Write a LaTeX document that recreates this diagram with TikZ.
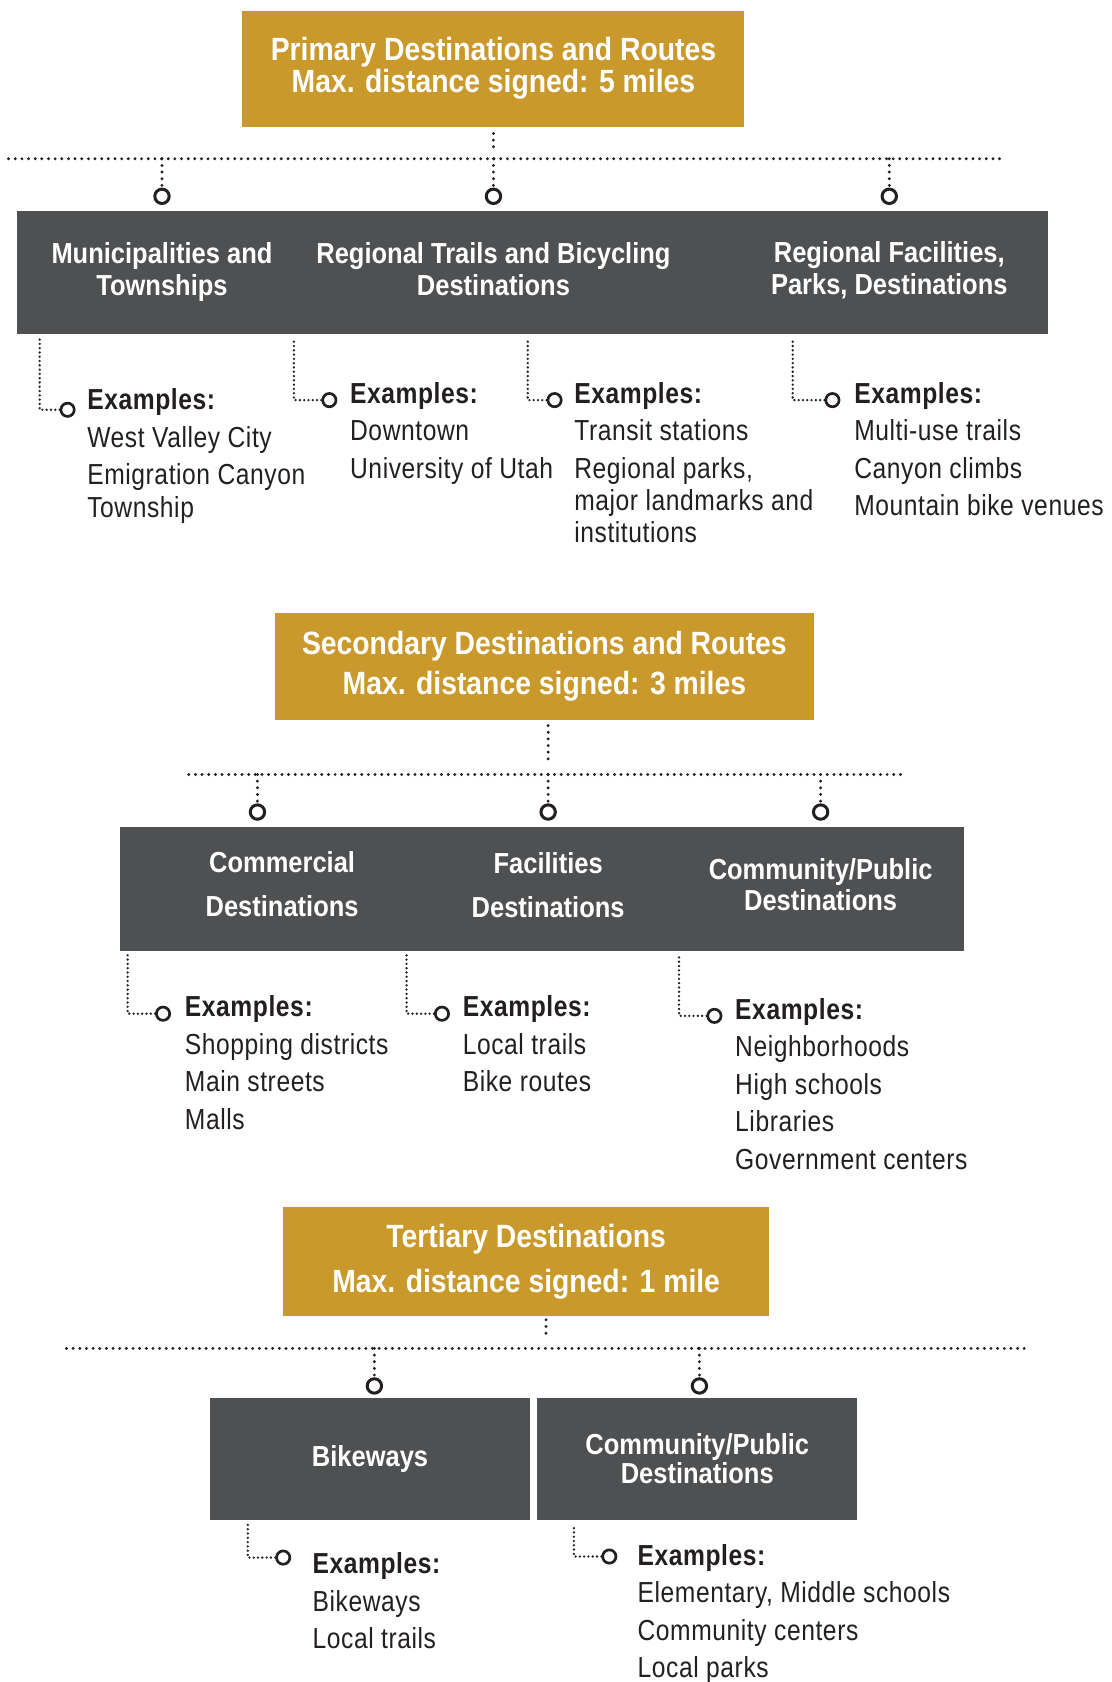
\documentclass[tikz,border=0pt]{standalone}
\usepackage{fontspec}
\setmainfont{Liberation Sans}
\newfontfamily\headfont[FakeStretch=0.88]{Liberation Sans}
\newfontfamily\bodyfont[FakeStretch=0.85,LetterSpace=2]{Liberation Sans}
\usetikzlibrary{calc}

\definecolor{gold}{HTML}{C9992B}
\definecolor{slate}{HTML}{4F5052}
\definecolor{ink}{HTML}{231F20}

\begin{document}
\begin{tikzpicture}[x=.5pt, y=-.5pt]
    \tikzstyle{goldbox} = [rectangle, fill=gold, text=white, align=center,
        inner sep=0pt, font=\headfont\bfseries\fontsize{15}{13.5}\selectfont]
    \tikzstyle{darkband} = [rectangle, fill=slate, inner sep=0pt]
    \tikzstyle{darkbox} = [rectangle, fill=slate, text=white, align=center,
        inner sep=0pt, minimum width=149pt, minimum height=57pt,
        font=\headfont\bfseries\fontsize{13.5}{13.5}\selectfont]
    \tikzstyle{headtext} = [text=white, align=center, inner sep=0pt,
        font=\headfont\bfseries\fontsize{13.5}{15}\selectfont]
    \tikzstyle{hubring} = [circle, draw=ink, line width=1.4pt, minimum size=6.7pt, inner sep=0pt]
    \tikzstyle{endring} = [circle, draw=ink, line width=1.25pt, minimum size=6.2pt, inner sep=0pt]
    \tikzstyle{examples} = [anchor=north west, align=left, text=ink, inner sep=0pt,
        font=\bodyfont\fontsize{13.5}{15}\selectfont]
    \tikzstyle{busdots} = [draw=ink, line width=1.5pt, line cap=round,
        dash pattern=on 0pt off 3.1pt]
    \tikzstyle{legdots} = [draw=ink, line width=1.2pt, line cap=round,
        dash pattern=on 0pt off 2pt]

    \useasboundingbox (0, 0) rectangle (1036, 1568);

    % Primary -------------------------------------------
    \node (gold1) at (460, 64) [goldbox, minimum width=234pt, minimum height=54pt]
        {Primary Destinations and Routes\\Max. distance signed: 5 miles};

    \coordinate (bus1w) at (8, 148);
    \coordinate (bus1e) at (938, 148);
    \draw [busdots, shorten <=3pt, shorten >=5pt] (gold1.south) -- (gold1.south |- bus1w);
    \draw [busdots] (bus1w) -- (bus1e);

    \node (h11) at (151, 183) [hubring] {};
    \node (h12) at (460, 183) [hubring] {};
    \node (h13) at (829, 183) [hubring] {};
    \draw [busdots] (h11 |- bus1w) -- (h11);
    \draw [busdots] (h12 |- bus1w) -- (h12);
    \draw [busdots] (h13 |- bus1w) -- (h13);

    \node (band1) at (496.5, 254) [darkband, minimum width=480.5pt, minimum height=57pt] {};
    \node (t11) at (151, 253.5) [headtext] {Municipalities and\\Townships};
    \node (t12) at (460, 251) [headtext] {Regional Trails and Bicycling\\Destinations};
    \node (t13) at (829, 252) [headtext] {Regional Facilities,\\Parks, Destinations};

    % Primary examples
    \coordinate (l11) at (37, 315);
    \coordinate (l12) at (274, 315);
    \coordinate (l13) at (492, 315);
    \coordinate (l14) at (739, 315);
    \node (e11) at (63, 382) [endring] {};
    \node (e12) at (307, 373) [endring] {};
    \node (e13) at (517, 373) [endring] {};
    \node (e14) at (776, 373) [endring] {};
    \draw [legdots] (e11) -| (l11);
    \draw [legdots] (e12) -| (l12);
    \draw [legdots] (e13) -| (l13);
    \draw [legdots] (e14) -| (l14);

    \node (ex11) at ($(e11) + (18, -20)$) [examples] {{\bfseries Examples:}\\[2.5pt]
        West Valley City\\[2.5pt] Emigration Canyon\\ Township};
    \node (ex12) at ($(e12) + (19, -17)$) [examples] {{\bfseries Examples:}\\[2.5pt]
        Downtown\\[2.5pt] University of Utah};
    \node (ex13) at ($(e13) + (18, -17)$) [examples] {{\bfseries Examples:}\\[2.5pt]
        Transit stations\\[2.5pt] Regional parks,\\ major landmarks and\\ institutions};
    \node (ex14) at ($(e14) + (20, -17)$) [examples] {{\bfseries Examples:}\\[2.5pt]
        Multi-use trails\\[2.5pt] Canyon climbs\\[2.5pt] Mountain bike venues};
    % ---------------------------------------------------

    % Secondary -----------------------------------------
    \node (gold2) at (507.5, 621) [goldbox, minimum width=251.5pt, minimum height=50pt]
        {Secondary Destinations and Routes\\[4pt]Max. distance signed: 3 miles};

    \coordinate (bus2w) at (176, 722);
    \coordinate (bus2e) at (841, 722);
    \node (h21) at (240, 757) [hubring] {};
    \node (h22) at (511, 757) [hubring] {};
    \node (h23) at (765, 757) [hubring] {};
    \draw [busdots, shorten <=2.5pt, shorten >=5pt] (gold2.south -| h22) -- (h22 |- bus2w);
    \draw [busdots] (bus2w) -- (bus2e);
    \draw [busdots] (h21 |- bus2w) -- (h21);
    \draw [busdots] (h22 |- bus2w) -- (h22);
    \draw [busdots] (h23 |- bus2w) -- (h23);

    \node (band2) at (505.5, 829) [darkband, minimum width=393.5pt, minimum height=58pt] {};
    \node (t21) at (263, 824) [headtext] {Commercial\\[5.5pt]Destinations};
    \node (t22) at (511, 825) [headtext] {Facilities\\[5.5pt]Destinations};
    \node (t23) at (765, 825) [headtext] {Community/Public\\[-.5pt]Destinations};

    % Secondary examples
    \coordinate (l21) at (119, 889);
    \coordinate (l22) at (379, 889);
    \coordinate (l23) at (633, 889);
    \node (e21) at (152, 945) [endring] {};
    \node (e22) at (412, 945) [endring] {};
    \node (e23) at (666, 947) [endring] {};
    \draw [legdots] (e21) -| (l21);
    \draw [legdots] (e22) -| (l22);
    \draw [legdots] (e23) -| (l23);

    \node (ex21) at ($(e21) + (20, -17)$) [examples] {{\bfseries Examples:}\\[2.5pt]
        Shopping districts\\[2.5pt] Main streets\\[2.5pt] Malls};
    \node (ex22) at ($(e22) + (19, -17)$) [examples] {{\bfseries Examples:}\\[2.5pt]
        Local trails\\[2.5pt] Bike routes};
    \node (ex23) at ($(e23) + (19, -17)$) [examples] {{\bfseries Examples:}\\[2.5pt]
        Neighborhoods\\[2.5pt] High schools\\[2.5pt] Libraries\\[2.5pt] Government centers};
    % ---------------------------------------------------

    % Tertiary ------------------------------------------
    \node (gold3) at (490.5, 1176) [goldbox, minimum width=226.5pt, minimum height=51pt]
        {Tertiary Destinations\\[6pt]Max. distance signed: 1 mile};

    \coordinate (bus3w) at (62, 1257);
    \coordinate (bus3e) at (958, 1257);
    \coordinate (s3) at ($(gold3.south) + (18.5, 0)$);
    \draw [busdots, shorten <=1.5pt, shorten >=5pt] (s3) -- (s3 |- bus3w);
    \draw [busdots] (bus3w) -- (bus3e);

    \node (h31) at (349, 1292) [hubring] {};
    \node (h32) at (652, 1292) [hubring] {};
    \draw [busdots] (h31 |- bus3w) -- (h31);
    \draw [busdots] (h32 |- bus3w) -- (h32);

    \node (b31) at (345, 1360) [darkbox] {Bikeways};
    \node (b32) at (650, 1360) [darkbox] {Community/Public\\Destinations};

    % Tertiary examples
    \coordinate (l31) at (231, 1421);
    \coordinate (l32) at (535, 1421);
    \node (e31) at (264, 1452) [endring] {};
    \node (e32) at (568, 1451) [endring] {};
    \draw [legdots] (e31) -| (l31);
    \draw [legdots] (e32) -| (l32);

    \node (ex31) at ($(e31) + (27, -5)$) [examples] {{\bfseries Examples:}\\[2.5pt]
        Bikeways\\[2.5pt] Local trails};
    \node (ex32) at ($(e32) + (26, -12)$) [examples] {{\bfseries Examples:}\\[2.5pt]
        Elementary, Middle schools\\[2.5pt] Community centers\\[2.5pt] Local parks};
    % ---------------------------------------------------
\end{tikzpicture}
\end{document}
